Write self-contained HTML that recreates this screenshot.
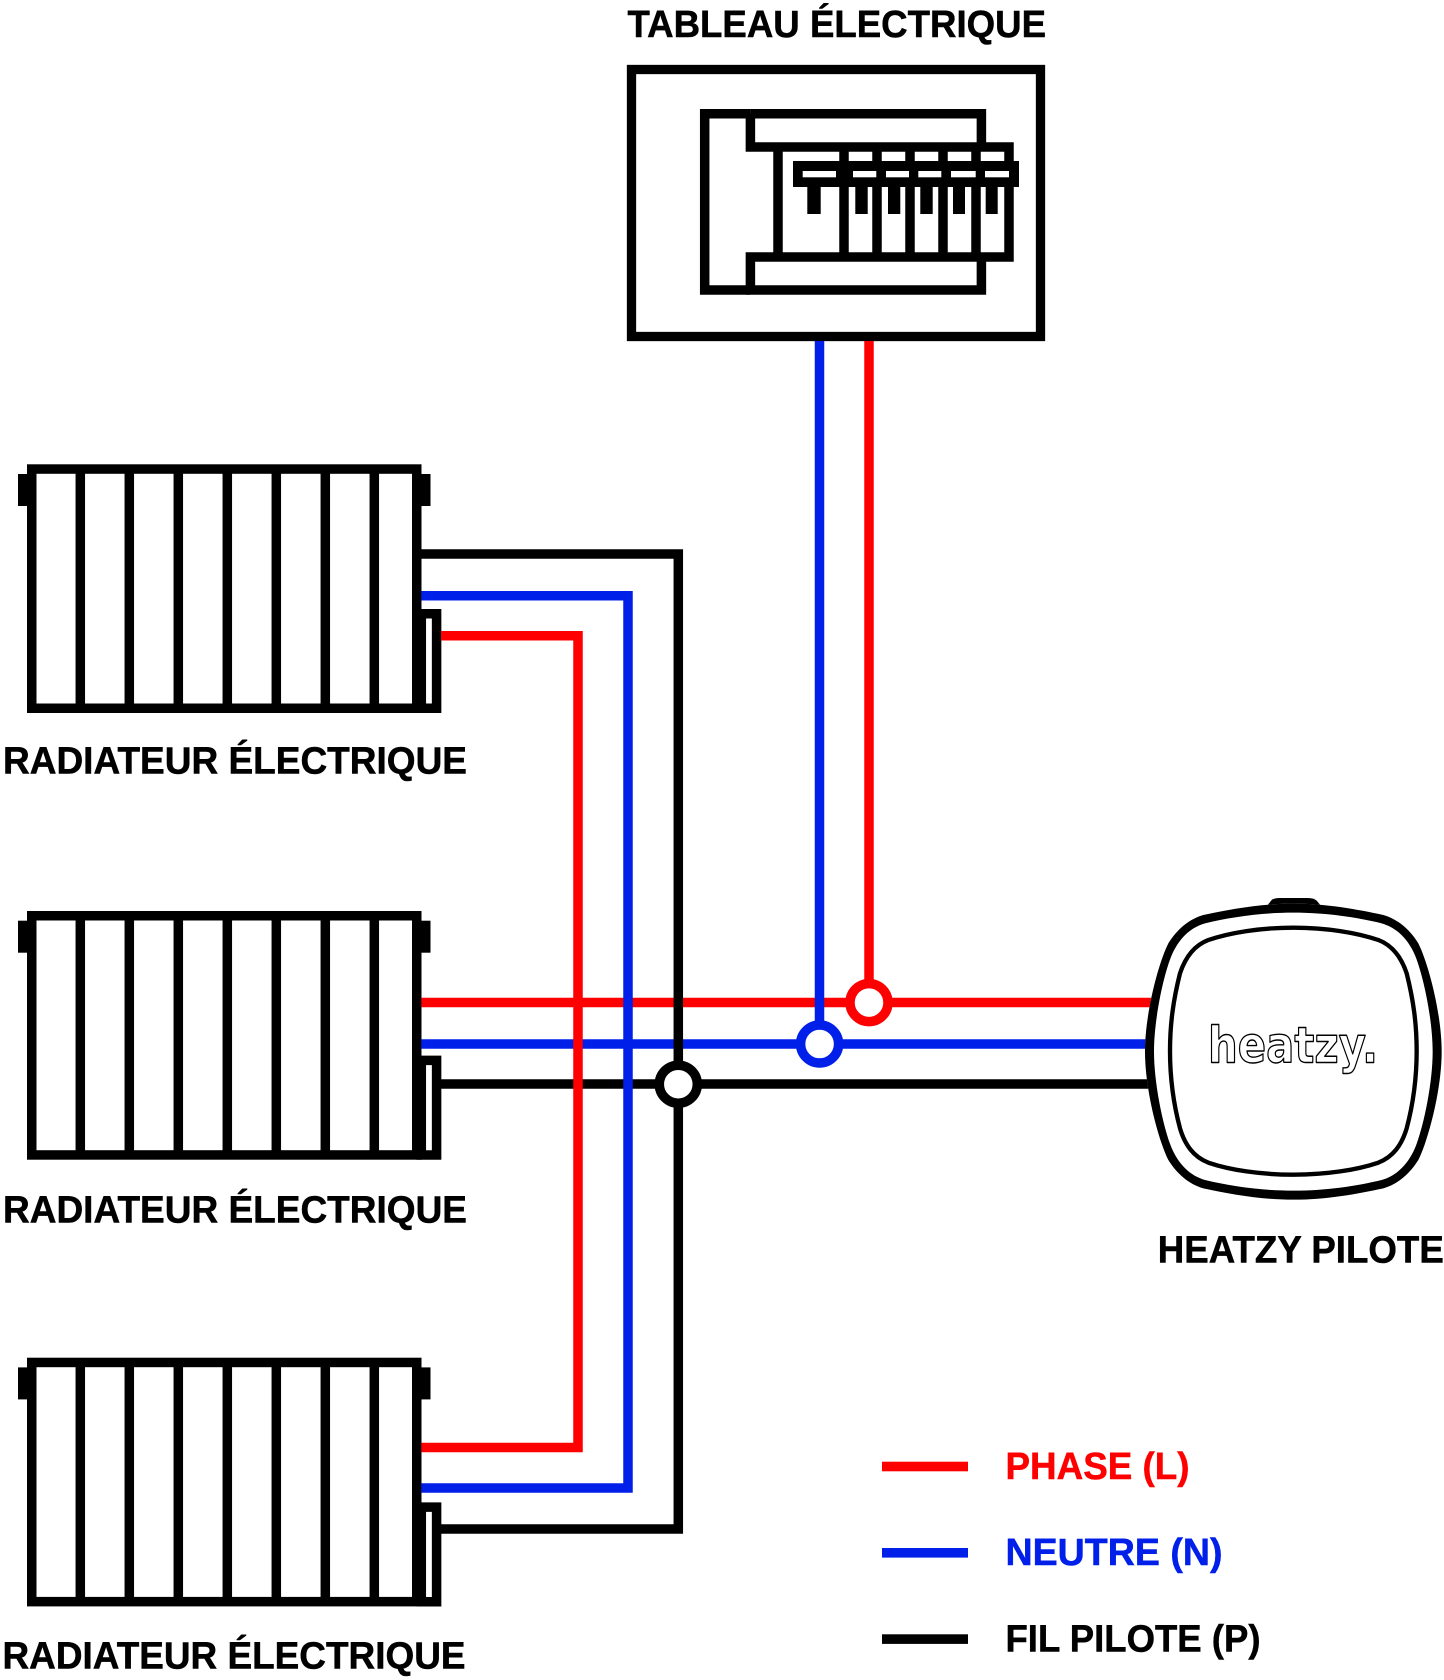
<!DOCTYPE html>
<html lang="fr">
<head>
<meta charset="utf-8">
<title>Schéma Heatzy Pilote</title>
<style>
html,body{margin:0;padding:0;background:#fff;}
svg{display:block;}
text{font-family:"Liberation Sans",sans-serif;font-weight:700;}
.l{stroke-width:.5;}
</style>
</head>
<body>
<svg width="1444" height="1680" viewBox="0 0 1444 1680" xmlns="http://www.w3.org/2000/svg">
<defs>
<g id="rad">
  <rect x="18" y="9.7" width="412.5" height="32" fill="#000"/>
  <path d="M421.3 149.4H436.6V244H421.3Z" fill="#fff" stroke="#000" stroke-width="9.5"/>
  <rect x="31.75" y="4.75" width="385" height="239.2" fill="#fff" stroke="#000" stroke-width="9.5"/>
  <path d="M80.3 5V244M129.3 5V244M178.3 5V244M227.3 5V244M276.3 5V244M325.3 5V244M374.3 5V244" fill="none" stroke="#000" stroke-width="9.5"/>
</g>
</defs>
<rect width="1444" height="1680" fill="#fff"/>

<!-- labels -->
<text class="l" stroke="#000" x="627.5" y="37" font-size="38" textLength="418.5" lengthAdjust="spacingAndGlyphs">TABLEAU ÉLECTRIQUE</text>
<text class="l" stroke="#000" x="3" y="773.3" font-size="38" textLength="464" lengthAdjust="spacingAndGlyphs">RADIATEUR ÉLECTRIQUE</text>
<text class="l" stroke="#000" x="3" y="1222.3" font-size="38" textLength="464" lengthAdjust="spacingAndGlyphs">RADIATEUR ÉLECTRIQUE</text>
<text class="l" stroke="#000" x="2.5" y="1668.3" font-size="38" textLength="463" lengthAdjust="spacingAndGlyphs">RADIATEUR ÉLECTRIQUE</text>
<text class="l" stroke="#000" x="1157.8" y="1262.7" font-size="38" textLength="286" lengthAdjust="spacingAndGlyphs">HEATZY PILOTE</text>

<!-- panel -->
<rect x="631.5" y="69.5" width="409" height="267" fill="#fff" stroke="#000" stroke-width="9.3"/>
<g fill="none" stroke="#000" stroke-width="9.5">
  <path d="M750.4 113.7H704.7V290H750.4"/>
  <path d="M750.4 113.7V147H1009V257H750.4V290H981.4V257M981.4 147V113.7H750.4"/>
  <path d="M778 147V257"/>
  <path d="M844 147V257M877 147V257M910 147V257M943 147V257M976 147V257"/>
</g>
<rect x="793" y="161" width="226" height="26" fill="#000"/>
<g fill="#fff">
  <rect x="802.7" y="171" width="33.3" height="6.3"/>
  <rect x="853" y="171" width="23.3" height="6.3"/>
  <rect x="886" y="171" width="23" height="6.3"/>
  <rect x="918.3" y="171" width="23" height="6.3"/>
  <rect x="951" y="171" width="24.7" height="6.3"/>
  <rect x="985" y="171" width="24" height="6.3"/>
</g>
<g fill="#000">
  <rect x="807.3" y="187" width="13.4" height="27"/>
  <rect x="855.3" y="187" width="12.4" height="27"/>
  <rect x="888" y="187" width="12.3" height="27"/>
  <rect x="920.3" y="187" width="12.4" height="27"/>
  <rect x="953" y="187" width="12" height="27"/>
  <rect x="985.7" y="187" width="12" height="27"/>
</g>

<!-- radiators -->
<use href="#rad" x="0" y="464.3"/>
<use href="#rad" x="0" y="911"/>
<use href="#rad" x="0" y="1357.7"/>

<!-- wires -->
<g fill="none" stroke-width="9.5" stroke-linejoin="miter">
  <path d="M421.3 1002.5H1160" stroke="#ff0000"/>
  <path d="M421.3 1044H1160" stroke="#0020ea"/>
  <path d="M441 1084H1160" stroke="#000"/>
  <path d="M421.3 554H678.3V1529H441" stroke="#000"/>
  <path d="M421.3 595.7H628V1488H421.3" stroke="#0020ea"/>
  <path d="M441 635.7H578V1447.5H421.3" stroke="#ff0000"/>
  <path d="M819.5 341V1044" stroke="#0020ea"/>
  <path d="M869 341V1002" stroke="#ff0000"/>
</g>

<!-- junctions -->
<circle cx="869" cy="1002.6" r="19" fill="#fff" stroke="#ff0000" stroke-width="9.5"/>
<circle cx="819.6" cy="1044" r="19" fill="#fff" stroke="#0020ea" stroke-width="9.5"/>
<circle cx="678.3" cy="1084.2" r="19" fill="#fff" stroke="#000" stroke-width="9.5"/>

<!-- heatzy device -->
<g transform="translate(1130 880) scale(.33333)">
  <path d="M412 76L425 60Q432 54 450 54H530Q552 54 560 62L572 76Z" fill="#000"/>
  <path fill="#fff" d="M490 71C590 71 680 88 760 105C805 118 840 150 865 190C895 250 935 400 935 515C935 630 895 780 865 840C840 880 805 912 760 925C680 942 590 959 490 959C390 959 300 942 220 925C175 912 140 880 115 840C85 780 45 630 45 515C45 400 85 250 115 190C140 150 175 118 220 105C300 88 390 71 490 71Z"/>
  <path fill="#000" fill-rule="evenodd" d="M490 71C590 71 680 88 760 105C805 118 840 150 865 190C895 250 935 400 935 515C935 630 895 780 865 840C840 880 805 912 760 925C680 942 590 959 490 959C390 959 300 942 220 925C175 912 140 880 115 840C85 780 45 630 45 515C45 400 85 250 115 190C140 150 175 118 220 105C300 88 390 71 490 71ZM490 98C590 98 680 112 755 130C800 143 830 175 850 215C875 265 908 410 908 515C908 620 875 765 850 815C830 855 800 887 755 900C680 918 590 932 490 932C390 932 300 918 225 900C180 887 150 855 130 815C105 765 72 620 72 515C72 410 105 265 130 215C150 175 180 143 225 130C300 112 390 98 490 98Z"/>
  <path d="M490 143C590 143 680 158 745 180C790 197 815 235 830 280C850 360 860 430 860 513C860 600 850 670 830 745C815 795 790 830 745 848C680 870 590 884 490 884C390 884 300 870 235 848C190 830 165 795 150 745C130 670 120 600 120 513C120 430 130 360 150 280C165 235 190 197 235 180C300 158 390 143 490 143Z" fill="#fff" stroke="#000" stroke-width="13"/>
</g>
<text x="1208" y="1062.7" font-size="50" textLength="170" lengthAdjust="spacingAndGlyphs" fill="#fff" stroke="#000" stroke-width="1.4" stroke-linejoin="round" style="font-family:'DejaVu Sans',sans-serif">heatzy.</text>

<!-- legend -->
<rect x="882" y="1461.7" width="86" height="9.6" fill="#ff0000"/>
<rect x="882" y="1548" width="86" height="9.6" fill="#0020ea"/>
<rect x="882" y="1634.3" width="86" height="9.6" fill="#000"/>
<text class="l" stroke="#ff0000" x="1005.5" y="1479" font-size="38" fill="#ff0000" textLength="184" lengthAdjust="spacingAndGlyphs">PHASE (L)</text>
<text class="l" stroke="#0020ea" x="1005.5" y="1565" font-size="38" fill="#0020ea" textLength="217" lengthAdjust="spacingAndGlyphs">NEUTRE (N)</text>
<text class="l" stroke="#000" x="1005.5" y="1651.7" font-size="38" fill="#000" textLength="255" lengthAdjust="spacingAndGlyphs">FIL PILOTE (P)</text>
</svg>
</body>
</html>
